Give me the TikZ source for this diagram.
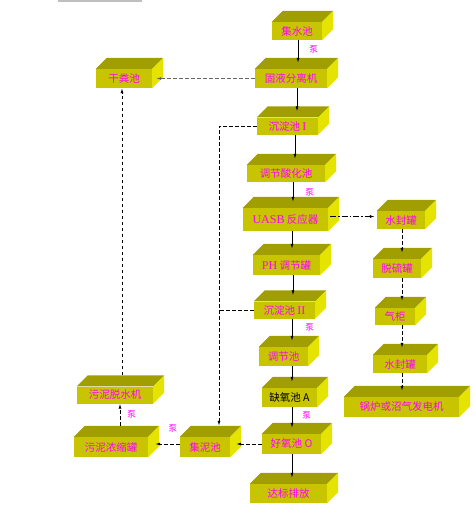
\documentclass[tikz,border=0pt]{standalone}
\usepackage{fontspec}
\setmainfont{Liberation Serif}
\newfontfamily\cjk{Noto Sans CJK SC}
\usetikzlibrary{arrows.meta}

\definecolor{frontc}{HTML}{C8C400}
\definecolor{topc}{HTML}{A09E00}
\definecolor{sidec}{HTML}{E4E400}
\definecolor{labelc}{HTML}{FF00FF}

\newcommand{\dep}{11pt}
\newcommand{\lat}[1]{{\rmfamily\fontsize{12}{12}\selectfont #1}}
% name, x, y, width, height, text
\newcommand{\tankbox}[6]{%
  \node[tank, minimum width=#4pt, minimum height=#5pt] (#1) at (#2,#3) {#6};
  \fill[topc] (#1.north west) -- ++(\dep,\dep) -- ([shift={(\dep,\dep)}]#1.north east) -- (#1.north east) -- cycle;
  \fill[sidec] (#1.north east) -- ++(\dep,\dep) -- ([shift={(\dep,\dep)}]#1.south east) -- (#1.south east) -- cycle;
}

\tikzset{
  tank/.style={rectangle, fill=frontc, inner sep=0pt, text=labelc,
    font=\cjk\fontsize{10.5}{12}\selectfont},
  pump/.style={inner sep=0pt, text=labelc, font=\cjk\fontsize{8.5}{10}\selectfont},
  flow/.style={-{Latex[length=5pt,width=3pt]}, line width=0.8pt},
  dashflow/.style={flow, dash pattern=on 3.5pt off 2.5pt},
  dashline/.style={line width=0.8pt, dash pattern=on 3.5pt off 2.5pt},
  gasflow/.style={flow, dash pattern=on 6pt off 2pt on 1.5pt off 2pt}
}

\begin{document}
\begin{tikzpicture}[x=1pt, y=-1pt]
  \useasboundingbox (0,0) rectangle (476,525);
  \draw[black!25, line width=2pt] (58,1) -- (142,1);

  % main line
  \tankbox{jishui}{297}{31}{50}{18}{集水池}
  \tankbox{fenli}{291}{78.5}{72}{19}{固液分离机}
  \tankbox{ganfen}{124}{78.5}{56}{19}{干粪池}
  \tankbox{chendian1}{287.5}{126}{61}{17}{沉淀池 \lat{I}}
  \tankbox{suanhua}{286}{173.5}{78}{17}{调节酸化池}
  \tankbox{uasb}{285.5}{219.5}{85}{23}{\lat{UASB} 反应器}
  \tankbox{ph}{286.5}{265}{67}{20}{\lat{PH} 调节罐}
  \tankbox{chendian2}{284.5}{310}{61}{17}{沉淀池 \lat{II}}
  \tankbox{tiaojie}{283.5}{356.5}{49}{19}{调节池}
  \tankbox{queyang}{289.5}{397.5}{55}{19}{\textcolor{black}{缺氧池 A}}
  \tankbox{haoyang}{291.5}{444}{59}{20}{好氧池 O}
  \tankbox{dabiao}{288.5}{493.5}{77}{19}{达标排放}

  % biogas line
  \tankbox{shuifeng1}{401}{220}{48}{18}{水封罐}
  \tankbox{tuoliu}{397}{268.5}{48}{19}{脱硫罐}
  \tankbox{qigui}{395}{316.5}{40}{17}{气柜}
  \tankbox{shuifeng2}{400}{364}{54}{18}{水封罐}
  \tankbox{guolu}{401.5}{407}{115}{20}{锅炉或沼气发电机}

  % sludge line
  \tankbox{jini}{205}{447}{50}{20}{集泥池}
  \tankbox{nongsuo}{111}{447}{74}{20}{污泥浓缩罐}
  \tankbox{tuoshui}{115}{395}{76}{17}{污泥脱水机}

  \draw[flow] (jishui.south -| 298,0) -- node[pump, right=11pt, pos=0.4] (pump1) {泵} ([yshift=6pt]fenli.north -| 298,0);
  \draw[flow] (fenli.south -| 297,0) -- ([yshift=6pt]chendian1.north -| 297,0);
  \draw[flow] (chendian1.south -| 295,0) -- ([yshift=6pt]suanhua.north -| 295,0);
  \draw[flow] (suanhua.south -| 293,0) -- node[pump, right=12pt, pos=0.5] (pump2) {泵} ([yshift=6pt]uasb.north -| 293,0);
  \draw[flow] (uasb.south -| 292,0) -- ([yshift=6pt]ph.north -| 292,0);
  \draw[flow] (ph.south -| 293,0) -- ([yshift=6pt]chendian2.north -| 293,0);
  \draw[flow] (chendian2.south -| 292,0) -- node[pump, right=13pt, pos=0.4] (pump3) {泵} ([yshift=6pt]tiaojie.north -| 292,0);
  \draw[flow] (tiaojie.south -| 292,0) -- ([yshift=6pt]queyang.north -| 292,0);
  \draw[flow] (queyang.south -| 292,0) -- node[pump, right=10pt, pos=0.4] (pump4) {泵} ([yshift=6pt]haoyang.north -| 292,0);
  \draw[flow] (haoyang.south -| 292,0) -- ([yshift=6pt]dabiao.north -| 292,0);

  \draw[dashflow, black!60] (fenli.west) -- ([xshift=4pt]fenli.west -| ganfen.east);
  \draw[gasflow] ([xshift=2pt,yshift=3pt]uasb.east) -- ([xshift=-2pt,yshift=3pt]uasb.east -| shuifeng1.west);
  \draw[dashflow] (shuifeng1.south -| 402,0) -- ([yshift=6pt]tuoliu.north -| 402,0);
  \draw[dashflow] (tuoliu.south -| 402,0) -- ([yshift=7pt]qigui.north -| 402,0);
  \draw[dashflow] (qigui.south -| 402,0) -- ([yshift=7pt]shuifeng2.north -| 402,0);
  \draw[dashflow] (shuifeng2.south -| 402,0) -- ([yshift=6pt]guolu.north -| 402,0);

  \draw[dashflow] (chendian1.west) -- (chendian1.west -| 219,0) -- ([yshift=\dep]jini.north -| 219,0);
  \draw[dashline] (chendian2.west) -- (chendian2.west -| 219,0);
  \draw[dashflow] (haoyang.west) -- ([xshift=6pt]haoyang.west -| jini.east);
  \draw[dashflow] ([yshift=3pt]jini.west) -- node[pump, above=11pt, pos=0.28] (pump5) {泵} ([xshift=7pt,yshift=3pt]jini.west -| nongsuo.east);
  \draw[dashflow] ([yshift=\dep]nongsuo.north -| 120,0) -- node[pump, right=7pt, pos=0.52] (pump6) {泵} (tuoshui.south -| 120,0);
  \draw[dashflow] ([yshift=\dep]tuoshui.north -| 122,0) -- (ganfen.south -| 122,0);
\end{tikzpicture}
\end{document}
